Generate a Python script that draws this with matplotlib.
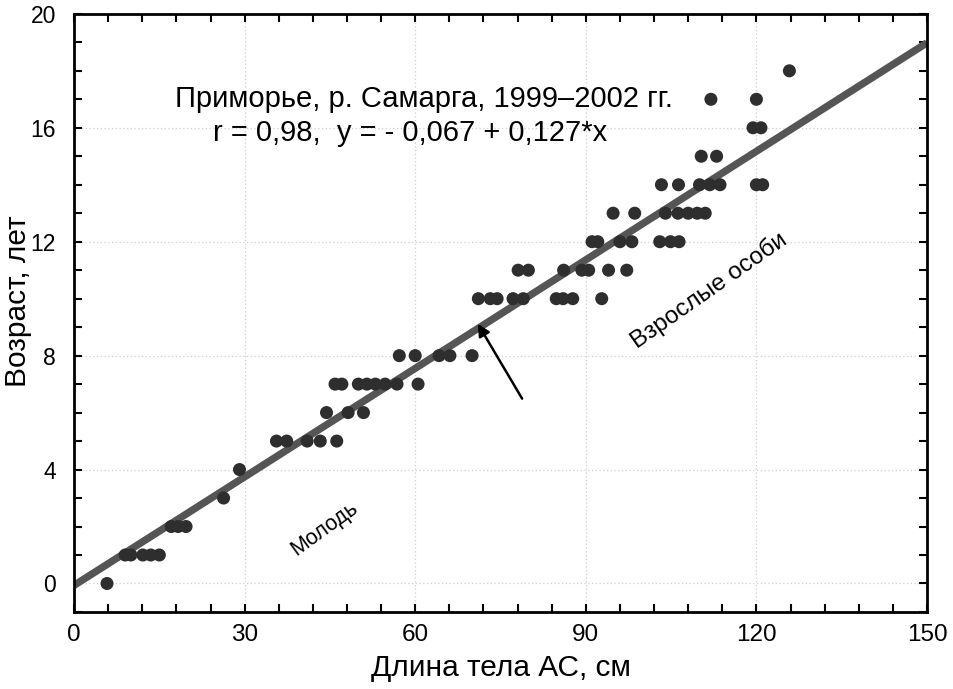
import matplotlib
matplotlib.use("Agg")
import matplotlib.pyplot as plt
from matplotlib.ticker import MultipleLocator
import numpy as np

# --- data ---
ages = [0, 1, 2, 3, 4, 5, 6, 7, 8, 10, 11, 12, 13, 14, 15, 16, 17, 18]
lengths_by_age = [
    [5.8],
    [9.0, 10.0, 12.1, 13.5, 15.0],
    [17.1, 18.3, 19.7],
    [26.3],
    [29.1],
    [35.6, 37.4, 41.0, 43.3, 46.2],
    [44.4, 48.2, 50.9],
    [45.9, 47.1, 50.0, 51.5, 53.0, 54.7, 56.8, 60.5],
    [57.2, 60.0, 64.2, 66.1, 70.0],
    [71.1, 73.2, 74.4, 77.2, 79.0, 84.8, 86.0, 87.7, 92.8],
    [78.1, 79.9, 86.1, 89.3, 90.5, 94.0, 97.2],
    [91.1, 92.1, 96.0, 98.1, 103.0, 104.9, 106.4],
    [94.8, 98.6, 104.0, 106.2, 108.0, 109.6, 111.0],
    [103.3, 106.3, 110.0, 111.8, 113.6, 120.0, 121.1],
    [110.3, 113.0],
    [119.4, 120.8],
    [112.0, 120.0],
    [125.8],
]
intercept = -0.067
slope = 0.127
x_ticks = [0, 30, 60, 90, 120, 150]
y_ticks = [0, 4, 8, 12, 16, 20]
title_line1 = "Приморье, р. Самарга, 1999–2002 гг."
title_line2 = "r = 0,98,  y = - 0,067 + 0,127*x"

xs = [x for xl in lengths_by_age for x in xl]
ys = [a for a, xl in zip(ages, lengths_by_age) for _ in xl]

plt.rcParams['font.family'] = ['Liberation Sans', 'DejaVu Sans']

fig = plt.figure(figsize=(9.54, 6.89), dpi=100)
ax = fig.add_axes([0.0776, 0.1118, 0.8941, 0.8681])

ax.set_xlim(0, 150)
ax.set_ylim(-1, 20)

ax.grid(True, which='major', color='#cfcfcf', linestyle=(0, (1, 2)), linewidth=0.9)
ax.set_axisbelow(True)

lx = np.array([0, 150])
ax.plot(lx, intercept + slope * lx, color='#555555', linewidth=5.3,
        solid_capstyle='butt', zorder=2, clip_on=True)
ax.scatter(xs, ys, s=88, color='#2e2e2e', edgecolors='none', zorder=3, clip_on=False)

ax.xaxis.set_minor_locator(MultipleLocator(6))
ax.yaxis.set_minor_locator(MultipleLocator(1))
ax.set_xticks(x_ticks)
ax.set_yticks(y_ticks)
ax.tick_params(which='both', direction='in', top=True, right=True,
               length=6, width=1.5, color='black')
ax.tick_params(axis='x', which='major', labelsize=17.5, pad=9)
ax.tick_params(axis='y', which='major', labelsize=16.5, pad=13)
for sp in ax.spines.values():
    sp.set_linewidth(2)

xl = ax.set_xlabel("Длина тела АС, см", fontsize=21.5)
xl.set_va('center')
ax.xaxis.set_label_coords(0.5, -0.0935)
yl = ax.set_ylabel("Возраст, лет", fontsize=21.5)
yl.set_va('center')
ax.yaxis.set_label_coords(-0.0655, 0.52)

ax.text(0.41, 0.858, title_line1, transform=ax.transAxes, fontsize=21,
        ha='center', va='center')
ax.text(0.394, 0.801, title_line2, transform=ax.transAxes, fontsize=21,
        ha='center', va='center')

ax.text(44.1, 1.93, "Молодь", fontsize=15.5, rotation=36, ha='center', va='center')
ax.text(111.7, 10.3, "Взрослые особи", fontsize=17.5, rotation=35, ha='center', va='center')

ax.annotate("", xy=(71.0, 9.12), xytext=(78.8, 6.49),
            arrowprops=dict(arrowstyle='-|>', color='black', lw=1.8,
                            mutation_scale=18, shrinkA=0, shrinkB=0), zorder=4)

fig.savefig("out.png", dpi=100)
